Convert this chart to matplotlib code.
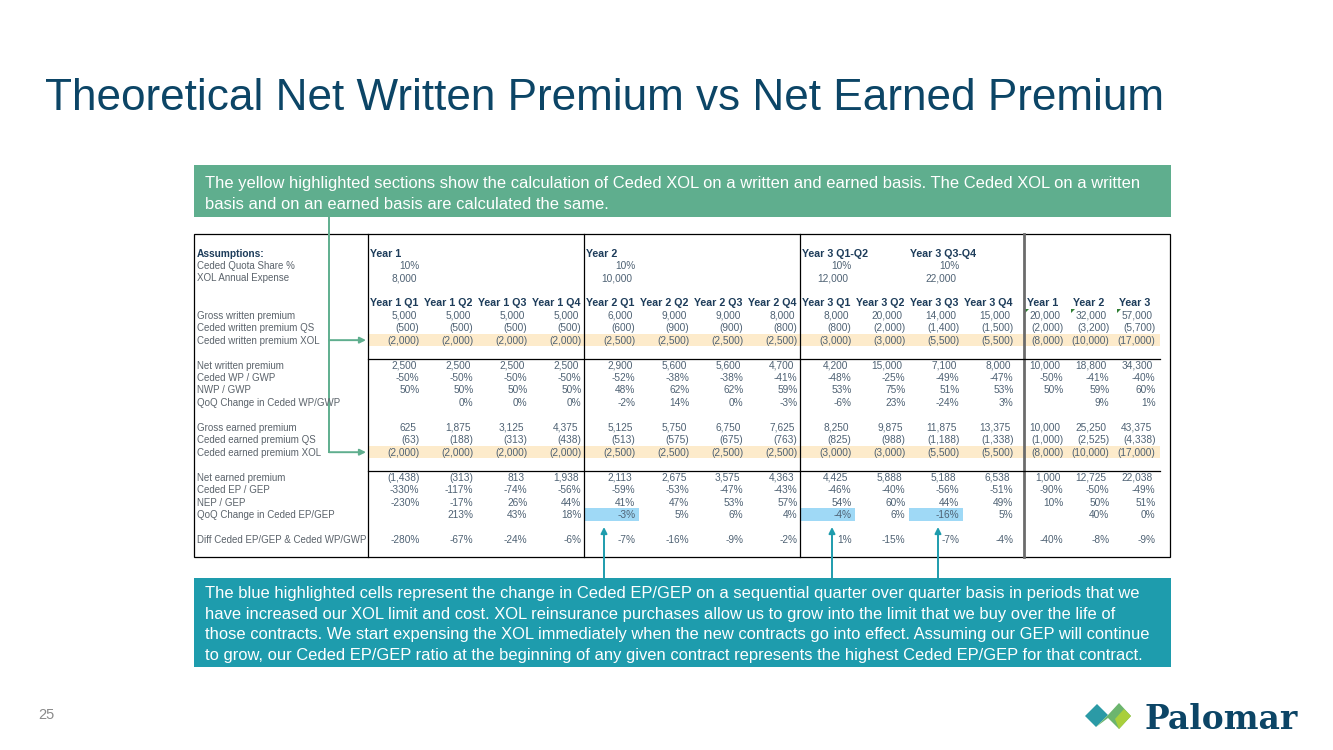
"""Palomar slide 25: theoretical NWP vs NEP table, redrawn in matplotlib."""
import matplotlib.pyplot as plt
from matplotlib.patches import Rectangle, Polygon

# -------- data --------
quarters = ["Year 1 Q1", "Year 1 Q2", "Year 1 Q3", "Year 1 Q4",
            "Year 2 Q1", "Year 2 Q2", "Year 2 Q3", "Year 2 Q4",
            "Year 3 Q1", "Year 3 Q2", "Year 3 Q3", "Year 3 Q4"]
years = ["Year 1", "Year 2", "Year 3"]

assump_periods = ["Year 1", "Year 2", "Year 3 Q1-Q2", "Year 3 Q3-Q4"]
assump_cols = [0, 4, 8, 10]
ceded_qs_pct = [10, 10, 10, 10]
xol_expense = [8000, 10000, 12000, 22000]

gwp = [5000, 5000, 5000, 5000, 6000, 9000, 9000, 8000, 8000, 20000, 14000, 15000,
       20000, 32000, 57000]
cwp_qs = [-500, -500, -500, -500, -600, -900, -900, -800, -800, -2000, -1400, -1500,
          -2000, -3200, -5700]
cwp_xol = [-2000, -2000, -2000, -2000, -2500, -2500, -2500, -2500, -3000, -3000, -5500, -5500,
           -8000, -10000, -17000]
nwp = [2500, 2500, 2500, 2500, 2900, 5600, 5600, 4700, 4200, 15000, 7100, 8000,
       10000, 18800, 34300]
ceded_wp_gwp = [-50, -50, -50, -50, -52, -38, -38, -41, -48, -25, -49, -47, -50, -41, -40]
nwp_gwp = [50, 50, 50, 50, 48, 62, 62, 59, 53, 75, 51, 53, 50, 59, 60]
qoq_wp = [None, 0, 0, 0, -2, 14, 0, -3, -6, 23, -24, 3, None, 9, 1]
gep = [625, 1875, 3125, 4375, 5125, 5750, 6750, 7625, 8250, 9875, 11875, 13375,
       10000, 25250, 43375]
cep_qs = [-63, -188, -313, -438, -513, -575, -675, -763, -825, -988, -1188, -1338,
          -1000, -2525, -4338]
cep_xol = [-2000, -2000, -2000, -2000, -2500, -2500, -2500, -2500, -3000, -3000, -5500, -5500,
           -8000, -10000, -17000]
nep = [-1438, -313, 813, 1938, 2113, 2675, 3575, 4363, 4425, 5888, 5188, 6538,
       1000, 12725, 22038]
ceded_ep_gep = [-330, -117, -74, -56, -59, -53, -47, -43, -46, -40, -56, -51, -90, -50, -49]
nep_gep = [-230, -17, 26, 44, 41, 47, 53, 57, 54, 60, 44, 49, 10, 50, 51]
qoq_ep = [None, 213, 43, 18, -3, 5, 6, 4, -4, 6, -16, 5, None, 40, 0]
diff_ep_wp = [-280, -67, -24, -6, -7, -16, -9, -2, 1, -15, -7, -4, -40, -8, -9]
blue_cells = [4, 8, 10]  # quarters where the XOL limit was raised

# (row index, label, values, kind)
rows = [
    (5, "Gross written premium", gwp, "num"),
    (6, "Ceded written premium QS", cwp_qs, "num"),
    (7, "Ceded written premium XOL", cwp_xol, "num"),
    (9, "Net written premium", nwp, "num"),
    (10, "Ceded WP / GWP", ceded_wp_gwp, "pct"),
    (11, "NWP / GWP", nwp_gwp, "pct"),
    (12, "QoQ Change in Ceded WP/GWP", qoq_wp, "pct"),
    (14, "Gross earned premium", gep, "num"),
    (15, "Ceded earned premium QS", cep_qs, "num"),
    (16, "Ceded earned premium XOL", cep_xol, "num"),
    (18, "Net earned premium", nep, "num"),
    (19, "Ceded EP / GEP", ceded_ep_gep, "pct"),
    (20, "NEP / GEP", nep_gep, "pct"),
    (21, "QoQ Change in Ceded EP/GEP", qoq_ep, "pct"),
    (23, "Diff Ceded EP/GEP & Ceded WP/GWP", diff_ep_wp, "pct"),
]

NAVY = "#0c4566"
HEAD = "#1d3c5a"
LABEL = "#5b636b"
NUM = "#4f6274"
GREEN_BOX = "#5fae8e"
TEAL_BOX = "#1e9cad"
YELLOW = "#fdebcb"
BLUE = "#9fd9f6"
FONT = "Liberation Sans"

# -------- layout helpers --------
Y0, DY = 253, 12.45
X_LAB = 197
Q_LEFT, Q_W = 368, 54
A_LEFT = [1022, 1068, 1114]
A_W = 46


def row_y(i):
    return Y0 + DY * i


def col_right(c):
    if c < 12:
        return Q_LEFT + Q_W * (c + 1)
    return A_LEFT[c - 12] + A_W


def col_left(c):
    if c < 12:
        return Q_LEFT + Q_W * c
    return A_LEFT[c - 12]


def cell(ax, x, y, s, ha="left", bold=False, color=NUM, size=7):
    ax.text(x, y + (3.7 if bold else 3.5), s, ha=ha, va="baseline",
            fontsize=7.7 if bold else size, fontweight="bold" if bold else "normal",
            color=color, family=FONT)


def put_value(ax, c, y, v, kind):
    if v is None:
        return
    r = col_right(c) - (2 if c >= 12 else 0)
    if kind == "pct":
        cell(ax, r - 2.5, y, f"{v}%", ha="right", size=7.3)
    elif v < 0:
        cell(ax, r - 2.5, y, f"({abs(v):,})", ha="right", size=7.3)
    else:
        cell(ax, r - 5.5, y, f"{v:,}", ha="right", size=7.3)


fig = plt.figure(figsize=(13.33, 7.5), dpi=100)
ax = fig.add_axes([0, 0, 1, 1])
ax.set_xlim(0, 1333)
ax.set_ylim(750, 0)
ax.axis("off")

# title + page number
ax.text(45, 110, "Theoretical Net Written Premium vs Net Earned Premium",
        fontsize=31.8, color=NAVY, family=FONT, va="baseline", ha="left")
ax.text(38, 719, "25", fontsize=10.5, color="#8a8a8a", family=FONT, va="baseline")

# green note box
ax.add_patch(Rectangle((194, 165), 977, 52, color=GREEN_BOX, lw=0))
green_lines = [
    "The yellow highlighted sections show the calculation of Ceded XOL on a written "
    "and earned basis. The Ceded XOL on a written",
    "basis and on an earned basis are calculated the same.",
]
for k, line in enumerate(green_lines):
    ax.text(205, 188 + 21 * k, line, fontsize=11.9, color="white", family=FONT,
            va="baseline")

# teal note box
ax.add_patch(Rectangle((194, 578), 977, 89, color=TEAL_BOX, lw=0))
teal_lines = [
    "The blue highlighted cells represent the change in Ceded EP/GEP on a sequential "
    "quarter over quarter basis in periods that we",
    "have increased our XOL limit and cost. XOL reinsurance purchases allow us to grow "
    "into the limit that we buy over the life of",
    "those contracts. We start expensing the XOL immediately when the new contracts go "
    "into effect. Assuming our GEP will continue",
    "to grow, our Ceded EP/GEP ratio at the beginning of any given contract represents "
    "the highest Ceded EP/GEP for that contract.",
]
for k, line in enumerate(teal_lines):
    ax.text(205, 598 + 20.7 * k, line, fontsize=11.9, color="white", family=FONT,
            va="baseline")

# highlights
for r in (7, 16):
    ax.add_patch(Rectangle((369, row_y(r) - DY / 2), 1160 - 369, DY, color=YELLOW, lw=0))
for c in blue_cells:
    ax.add_patch(Rectangle((col_left(c) + 1, row_y(21) - DY / 2), Q_W, DY,
                           color=BLUE, lw=0))

# table frame
top, bot = 234, 557
ax.add_patch(Rectangle((194, top), 1170 - 194, bot - top, fill=False,
                       ec="black", lw=0.9))
for x in (368, 584, 800):
    ax.plot([x, x], [top, bot], color="black", lw=0.9)
ax.plot([1024, 1024], [top, bot], color="#6b6b6b", lw=2)
for y in (row_y(8) + DY / 2, row_y(17) + DY / 2):
    ax.plot([368, 1160], [y, y], color="black", lw=0.9)

# assumptions block
ax.text(X_LAB, row_y(0) + 3.6, "Assumptions:", fontsize=7.3, fontweight="bold",
        color=HEAD, family=FONT, va="baseline")
cell(ax, X_LAB, row_y(1), "Ceded Quota Share %", color=LABEL)
cell(ax, X_LAB, row_y(2), "XOL Annual Expense", color=LABEL)
for name, c, pct, xol in zip(assump_periods, assump_cols, ceded_qs_pct, xol_expense):
    cell(ax, col_left(c) + 2, row_y(0), name, bold=True, color=HEAD)
    put_value(ax, c, row_y(1), pct, "pct")
    put_value(ax, c, row_y(2), xol, "num")

# column headers
for c, name in enumerate(quarters + years):
    x = col_left(c) + (2 if c < 12 else 5)
    cell(ax, x, row_y(4), name, bold=True, color=HEAD)
# comment markers on the annual columns
for c in range(12, 15):
    x0 = col_left(c) + 3
    y0 = row_y(5) - DY / 2
    ax.add_patch(Polygon([(x0, y0), (x0 + 4, y0), (x0, y0 + 4)], color="#2e7d32", lw=0))

# body rows
for r, label, vals, kind in rows:
    y = row_y(r)
    cell(ax, X_LAB, y, label, color=LABEL)
    for c, v in enumerate(vals):
        put_value(ax, c, y, v, kind)

# green arrows from the top note to the XOL rows
ARROW_G = "#5fae8e"
ax.plot([329, 329], [217, row_y(16)], color=ARROW_G, lw=1.4)
for r in (7, 16):
    ax.annotate("", xy=(366, row_y(r)), xytext=(329, row_y(r)),
                arrowprops=dict(arrowstyle="-|>", color=ARROW_G, lw=1.4,
                                mutation_scale=9, shrinkA=0, shrinkB=0))

# teal arrows from the bottom note to the blue cells
for x in (604, 832, 938):
    ax.annotate("", xy=(x, 527), xytext=(x, 578),
                arrowprops=dict(arrowstyle="-|>", color=TEAL_BOX, lw=1.4,
                                mutation_scale=9, shrinkA=0, shrinkB=0))

# Palomar logo
ax.add_patch(Polygon([(1085, 716), (1097, 704), (1108, 715), (1096, 727)],
                     color="#2b9aa6", lw=0))
ax.add_patch(Polygon([(1096, 727), (1108, 715), (1119, 703), (1131, 716),
                      (1119, 729), (1108, 718)], color="#6cb56e", lw=0))
ax.add_patch(Polygon([(1119, 729), (1131, 716), (1124, 709), (1115, 719)],
                     color="#a9cf3c", lw=0))
ax.text(1145, 729, "Palomar", fontsize=23.7, fontweight="bold", color=NAVY,
        family="DejaVu Serif", va="baseline", ha="left")

fig.savefig("out.png", dpi=100)
